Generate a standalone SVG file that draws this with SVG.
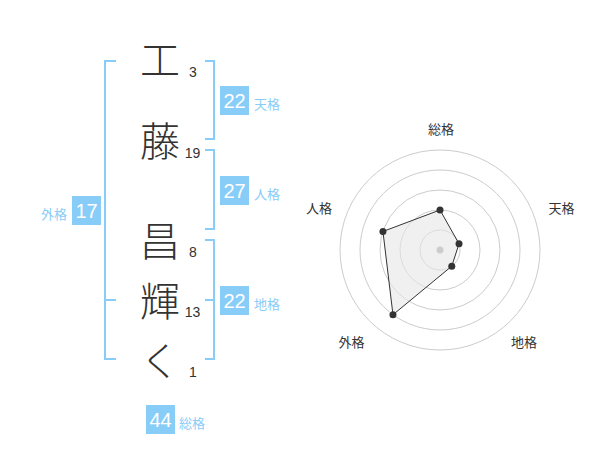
<svg xmlns="http://www.w3.org/2000/svg" width="600" height="470" viewBox="0 0 600 470">
<style>
.ch{font-family:"Noto Sans CJK JP","Noto Sans CJK SC",sans-serif;font-size:40px;font-weight:300;fill:#333;text-anchor:middle}
.num{font-family:"Liberation Sans",Arial,sans-serif;font-size:14px;fill:#333;text-anchor:middle}
.box{fill:#88CCF8}
.bt{font-family:"Liberation Sans",Arial,sans-serif;font-size:20px;fill:#fff;text-anchor:middle}
.lb{font-family:"Noto Sans CJK JP","Noto Sans CJK SC",sans-serif;font-size:13px;fill:#88CCF8}
.br{fill:none;stroke:#88CCF8;stroke-width:2}
.ring{fill:none;stroke:#ccc;stroke-width:1}
.rl{font-family:"Noto Sans CJK JP","Noto Sans CJK SC",sans-serif;font-size:13px;fill:#333;text-anchor:middle}
.dot{fill:#333}
</style>
<rect width="600" height="470" fill="#fff"/>
<g id="connectors">
<path class="br" d="M116,61 H105 V359 H116 M105,300 H116"/>
<path class="br" d="M205,61 H214 V139 H205"/>
<path class="br" d="M205,150 H214 V229 H205"/>
<path class="br" d="M205,240 H214 V359 H205 M205,300 H214"/>
</g>
<g id="char1"><text class="ch" x="160" y="75">工</text><text class="num" x="193" y="77">3</text></g>
<g id="char2"><text class="ch" x="160" y="156">藤</text><text class="num" x="192.5" y="158">19</text></g>
<g id="char3"><text class="ch" x="160" y="256">昌</text><text class="num" x="193" y="257">8</text></g>
<g id="char4"><text class="ch" x="160" y="316">輝</text><text class="num" x="192.5" y="317">13</text></g>
<g id="char5"><text class="ch" x="160" y="376">く</text><text class="num" x="193" y="377">1</text></g>
<g id="tenkaku"><rect class="box" x="220" y="86" width="29" height="29"/><text class="bt" x="234.5" y="108">22</text><text class="lb" x="254" y="109">天格</text></g>
<g id="jinkaku"><rect class="box" x="220" y="176" width="29" height="29"/><text class="bt" x="234.5" y="198">27</text><text class="lb" x="254" y="199">人格</text></g>
<g id="chikaku"><rect class="box" x="220" y="286" width="29" height="29"/><text class="bt" x="234.5" y="308">22</text><text class="lb" x="254" y="309">地格</text></g>
<g id="gaikaku"><rect class="box" x="72" y="196" width="29" height="29"/><text class="bt" x="86.5" y="218">17</text><text class="lb" x="41" y="219">外格</text></g>
<g id="soukaku"><rect class="box" x="146" y="405" width="29" height="29"/><text class="bt" x="160.5" y="427">44</text><text class="lb" x="179" y="428">総格</text></g>
<g id="radar">
<circle class="ring" cx="440" cy="250" r="20"/>
<circle class="ring" cx="440" cy="250" r="40"/>
<circle class="ring" cx="440" cy="250" r="60"/>
<circle class="ring" cx="440" cy="250" r="80"/>
<circle class="ring" cx="440" cy="250" r="100"/>
<polygon points="440,210 459.02,243.82 451.76,266.18 392.98,314.72 382.94,231.46" fill="#e6e6e6" fill-opacity="0.6" stroke="#333" stroke-width="1"/>
<circle cx="440" cy="250" r="3.5" fill="#ccc"/>
<circle class="dot" cx="440" cy="210" r="3.5"/>
<circle class="dot" cx="459.02" cy="243.82" r="3.5"/>
<circle class="dot" cx="451.76" cy="266.18" r="3.5"/>
<circle class="dot" cx="392.98" cy="314.72" r="3.5"/>
<circle class="dot" cx="382.94" cy="231.46" r="3.5"/>
<text class="rl" x="441" y="134">総格</text>
<text class="rl" x="561.5" y="213">天格</text>
<text class="rl" x="524" y="347">地格</text>
<text class="rl" x="351.5" y="347">外格</text>
<text class="rl" x="319" y="213">人格</text>
</g>
</svg>
